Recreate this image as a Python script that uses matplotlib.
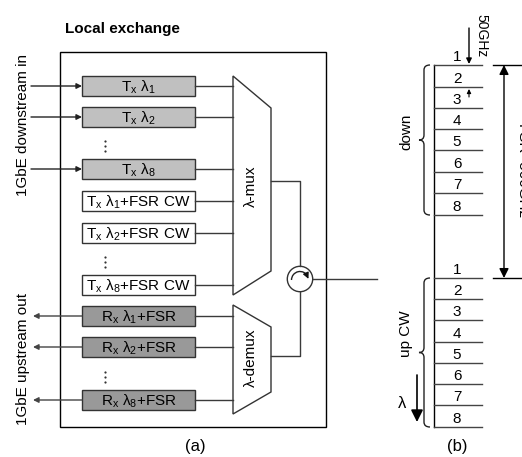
import math
import matplotlib
matplotlib.use("Agg")
import matplotlib.pyplot as plt
from matplotlib.patches import Rectangle, Polygon, Circle, Arc, PathPatch
from matplotlib.path import Path

plt.rcParams['font.family'] = ['Liberation Sans', 'DejaVu Sans']
plt.rcParams['mathtext.default'] = 'regular'

# ---- content -------------------------------------------------------------
title = "Local exchange"
tx_labels = [r"T$_{x}$ λ$_{1}$", r"T$_{x}$ λ$_{2}$", r"T$_{x}$ λ$_{8}$"]
cw_labels = [r"T$_{x}$ λ$_{1}$+FSR CW", r"T$_{x}$ λ$_{2}$+FSR CW", r"T$_{x}$ λ$_{8}$+FSR CW"]
rx_labels = [r"R$_{x}$ λ$_{1}$+FSR", r"R$_{x}$ λ$_{2}$+FSR", r"R$_{x}$ λ$_{8}$+FSR"]
channels = ["1", "2", "3", "4", "5", "6", "7", "8"]
in_label = "1GbE downstream in"
out_label = "1GbE upstream out"
spacing_label = "50GHz"
fsr_label = "FSR=500GHz"

# ---- layout (pixel space) -------------------------------------------------
W, H = 522, 457
fig = plt.figure(figsize=(W / 100, H / 100), dpi=100)
ax = fig.add_axes([0, 0, 1, 1])
ax.set_xlim(0, W)
ax.set_ylim(H, 0)
ax.axis("off")

FS = 11
EDGE = "#333333"
LINE = "#3a3a3a"
TX_FILL = "#c0c0c0"
RX_FILL = "#999999"

tx_y, tx_dots = [86, 117, 169], 146
cw_y, cw_dots = [201, 233, 285], 262
rx_y, rx_dots = [316, 347, 400], 377

bx0, bx1, bh = 82, 195, 20
mux_x0, mux_x1 = 233, 271

# outer frame
ax.add_patch(Rectangle((60, 52), 266, 375, fill=False, ec="black", lw=1.0))
ax.text(65, 29, title, fontsize=FS, fontweight="bold", ha="left", va="center")

def box(y, label, fill):
    ax.add_patch(Rectangle((bx0, y - bh / 2), bx1 - bx0, bh, fc=fill, ec=EDGE, lw=1.0))
    ax.text((bx0 + bx1) / 2, y + 1, label, fontsize=FS, ha="center", va="center")
    ax.plot([bx1, mux_x0], [y, y], color=LINE, lw=1.0)

for y, lab in zip(tx_y, tx_labels):
    box(y, lab, TX_FILL)
    ax.annotate("", xy=(bx0, y), xytext=(31, y),
                arrowprops=dict(arrowstyle="-|>", mutation_scale=8, lw=1.0,
                                color="#222222", shrinkA=0, shrinkB=0))
for y, lab in zip(cw_y, cw_labels):
    box(y, lab, "white")
for y, lab in zip(rx_y, rx_labels):
    box(y, lab, RX_FILL)
    ax.annotate("", xy=(33, y), xytext=(bx0, y),
                arrowprops=dict(arrowstyle="-|>", mutation_scale=8, lw=1.0,
                                color="#444444", shrinkA=0, shrinkB=0))

for yd in (tx_dots, cw_dots, rx_dots):
    ax.plot([105, 105, 105], [yd - 5, yd, yd + 5], ls="none", marker="o",
            ms=1.6, mew=0, color="#333333")

ax.text(23, 125, in_label, fontsize=FS, rotation=90, ha="center", va="center")
ax.text(23, 359, out_label, fontsize=FS, rotation=90, ha="center", va="center")

# multiplexer / demultiplexer
ax.add_patch(Polygon([(mux_x0, 76), (mux_x1, 108), (mux_x1, 271), (mux_x0, 295)],
                     closed=True, fc="white", ec=EDGE, lw=1.0))
ax.add_patch(Polygon([(mux_x0, 305), (mux_x1, 327), (mux_x1, 392), (mux_x0, 414)],
                     closed=True, fc="white", ec=EDGE, lw=1.0))
ax.text(251, 186, "λ-mux", fontsize=FS, rotation=90, ha="center", va="center")
ax.text(251, 358, "λ-demux", fontsize=FS, rotation=90, ha="center", va="center")

# circulator
cx, cy, cr = 300, 279, 12.7
ax.plot([mux_x1, cx, cx], [181, 181, cy - cr], color=LINE, lw=1.0)
ax.plot([cx, cx, mux_x1], [cy + cr, 356, 356], color=LINE, lw=1.0)
ax.plot([cx + cr, 377], [cy, cy], color=LINE, lw=1.0)
ax.add_patch(Circle((cx, cy), cr, fc="white", ec=EDGE, lw=1.0))
ar = 8.5
ax.add_patch(Arc((cx, cy + 1), 2 * ar, 2 * ar, theta1=-180, theta2=-25, color="#222222", lw=1.0))
a0, a1 = math.radians(-40), math.radians(-8)
ax.annotate("", xy=(cx + ar * math.cos(a1), cy + 1 + ar * math.sin(a1)),
            xytext=(cx + ar * math.cos(a0), cy + 1 + ar * math.sin(a0)),
            arrowprops=dict(arrowstyle="-|>", mutation_scale=9, lw=0.8,
                            color="#111111", shrinkA=0, shrinkB=0))

ax.text(195, 447, "(a)", fontsize=FS + 1, ha="center", va="center")

# ---- (b) channel plan ------------------------------------------------------
vx = 434
down_lines = [65, 87, 108, 129, 150, 172, 193, 215]
up_lines = [278, 299, 320, 342, 363, 384, 405, 427]
ax.plot([vx, vx], [65, 427], color="black", lw=1.0)
for ys in (down_lines, up_lines):
    for y, ch in zip(ys, channels):
        ax.plot([vx, 482], [y, y], color="#444444", lw=1.0)
        ax.text(457, y - 8, ch, fontsize=FS, ha="center", va="center")

def brace(y0, y1, xr=430, xm=424, xt=419, r=5):
    ym = (y0 + y1) / 2
    verts = [(xr, y0), (xm, y0), (xm, y0 + r), (xm, ym - r), (xm, ym), (xt, ym),
             (xm, ym), (xm, ym + r), (xm, y1 - r), (xm, y1), (xr, y1)]
    codes = [Path.MOVETO, Path.CURVE3, Path.CURVE3, Path.LINETO, Path.CURVE3, Path.CURVE3,
             Path.CURVE3, Path.CURVE3, Path.LINETO, Path.CURVE3, Path.CURVE3]
    ax.add_patch(PathPatch(Path(verts, codes), fill=False, ec="#222222", lw=1.0))

brace(65, 215)
brace(278, 427)
ax.text(406, 132, "down", fontsize=FS, rotation=90, ha="center", va="center")
ax.text(406, 334, "up CW", fontsize=FS, rotation=90, ha="center", va="center")

# lambda direction arrow
ax.annotate("", xy=(417, 422), xytext=(417, 375),
            arrowprops=dict(arrowstyle="-|>", mutation_scale=18, lw=1.2,
                            color="black", shrinkA=0, shrinkB=0))
ax.text(402, 403, "λ", fontsize=FS + 1, ha="center", va="center")

# 50 GHz spacing marks
ax.annotate("", xy=(469, 64), xytext=(469, 28),
            arrowprops=dict(arrowstyle="-|>", mutation_scale=8, lw=1.0,
                            color="black", shrinkA=0, shrinkB=0))
ax.annotate("", xy=(469, 89), xytext=(469, 97),
            arrowprops=dict(arrowstyle="-|>", mutation_scale=6, lw=0.8,
                            color="black", shrinkA=0, shrinkB=0))
ax.text(481, 36, spacing_label, fontsize=FS - 1, rotation=-90, ha="center", va="center")

# FSR span
ax.plot([493, 530], [65, 65], color="black", lw=1.0)
ax.plot([493, 530], [278, 278], color="black", lw=1.0)
ax.annotate("", xy=(504, 65), xytext=(504, 278),
            arrowprops=dict(arrowstyle="<|-|>", mutation_scale=14, lw=1.0,
                            color="black", shrinkA=0, shrinkB=0))
ax.text(522, 172, fsr_label, fontsize=FS, rotation=-90, ha="center", va="center")

ax.text(457, 447, "(b)", fontsize=FS + 1, ha="center", va="center")

fig.savefig("out.png", dpi=100)
